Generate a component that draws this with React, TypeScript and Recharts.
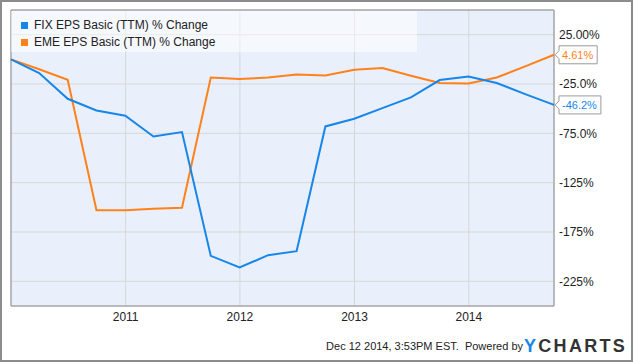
import { LineChart, Line, XAxis, YAxis, CartesianGrid, ReferenceArea } from "recharts";

const quarters = [
  "2009-12-31", "2010-03-31", "2010-06-30", "2010-09-30",
  "2010-12-31", "2011-03-31", "2011-06-30", "2011-09-30",
  "2011-12-31", "2012-03-31", "2012-06-30", "2012-09-30",
  "2012-12-31", "2013-03-31", "2013-06-30", "2013-09-30",
  "2013-12-31", "2014-03-31", "2014-06-30", "2014-09-30",
];
const fixChange = [
  0, -13.9, -40, -51.8, -57.2, -78.2, -73.7, -199.2, -211, -198.5,
  -194.4, -68, -60.2, -49.4, -38.6, -21, -17.3, -24, -35.2, -46.2,
];
const emeChange = [
  0, -10, -20.7, -153, -153, -151.5, -150.5, -18.4, -20, -18.4,
  -15.3, -16.3, -10.5, -8.9, -16.6, -24, -24.4, -18.4, -7.2, 4.61,
];
const yearTicks = ["2011-01-01", "2012-01-01", "2013-01-01", "2014-01-01"];
const yearLabels = ["2011", "2012", "2013", "2014"];
const yTicks = [25, -25, -75, -125, -175, -225];
const yTickLabels = ["25.00%", "-25.0%", "-75.0%", "-125%", "-175%", "-225%"];
const fixEndLabel = "-46.2%";
const emeEndLabel = "4.61%";

const BLUE = "#1686ea";
const ORANGE = "#ff8119";
const FONT = "'Liberation Sans', Arial, sans-serif";

const data = quarters.map((q, i) => ({
  t: Date.parse(q),
  fix: fixChange[i],
  eme: emeChange[i],
}));
const tMin = data[0].t;
const tMax = data[data.length - 1].t;
const xTicks = yearTicks.map((d) => Date.parse(d));

// rough text width for the end-value tags (11px Arial)
const textWidth = (s: string) =>
  s.split("").reduce((w, c) => w + (c === "%" ? 9.8 : c === "." ? 3.1 : c === "-" ? 3.7 : 6.1), 0);

function endTag(text: string, color: string) {
  return (props: any) => {
    const { x, y, index } = props;
    if (index !== data.length - 1) return null;
    const bx = x + 5;
    const w = textWidth(text) + 7;
    const d = `M${x + 1},${y} L${bx},${y - 4} L${bx},${y - 9} L${bx + w},${y - 9} L${bx + w},${y + 9} L${bx},${y + 9} L${bx},${y + 4} Z`;
    return (
      <g>
        <path d={d} fill="#fff" stroke="#9a9a9a" strokeWidth={1} />
        <text x={bx + 3} y={y + 4} fill={color} fontSize={11} fontFamily={FONT}>
          {text}
        </text>
      </g>
    );
  };
}

export default function App() {
  return (
    <div style={{ position: "absolute", left: 0, top: 0, width: 635, height: 362, background: "#fff", fontFamily: FONT }}>
      <LineChart
        width={635}
        height={362}
        data={data}
        margin={{ top: 10, right: 11, left: 11, bottom: 26 }}
      >
        <CartesianGrid stroke="#d7d7d7" fill="#eaf0fb" fillOpacity={1} />
        <XAxis
          dataKey="t"
          type="number"
          domain={[tMin, tMax]}
          ticks={xTicks}
          tickFormatter={(v) => yearLabels[xTicks.indexOf(v)] ?? ""}
          height={30}
          axisLine={false}
          tickLine={false}
          tickSize={0}
          tickMargin={6}
          tick={{ fontSize: 12, fill: "#222", fontFamily: FONT }}
        />
        <YAxis
          orientation="right"
          type="number"
          domain={[-250, 50]}
          ticks={yTicks}
          tickFormatter={(v) => yTickLabels[yTicks.indexOf(v)] ?? ""}
          width={70}
          axisLine={false}
          tickLine={false}
          tickSize={0}
          tickMargin={5}
          tick={{ fontSize: 12, fill: "#222", fontFamily: FONT }}
        />
        <ReferenceArea x1={tMin} x2={tMax} y1={-250} y2={50} fill="none" stroke="#8c8c8c" strokeWidth={1} />
        <Line
          type="linear"
          dataKey="eme"
          stroke={ORANGE}
          strokeWidth={2}
          dot={false}
          isAnimationActive={false}
          label={endTag(emeEndLabel, ORANGE)}
        />
        <Line
          type="linear"
          dataKey="fix"
          stroke={BLUE}
          strokeWidth={2}
          dot={false}
          isAnimationActive={false}
          label={endTag(fixEndLabel, BLUE)}
        />
      </LineChart>

      <div
        style={{
          position: "absolute", left: 11, top: 11, width: 406, height: 41,
          background: "rgba(255,255,255,0.5)", fontSize: 12, color: "#222",
        }}
      >
        <div style={{ position: "absolute", left: 10, top: 7, display: "flex", alignItems: "center" }}>
          <span style={{ width: 7, height: 7, background: BLUE, marginRight: 6 }} />
          FIX EPS Basic (TTM) % Change
        </div>
        <div style={{ position: "absolute", left: 10, top: 24, display: "flex", alignItems: "center" }}>
          <span style={{ width: 7, height: 7, background: ORANGE, marginRight: 6 }} />
          EME EPS Basic (TTM) % Change
        </div>
      </div>

      <div style={{ position: "absolute", right: 112, top: 340, fontSize: 11, color: "#222" }}>
        Dec 12 2014, 3:53PM EST.&nbsp; Powered by
      </div>
      <div style={{ position: "absolute", left: 524, top: 336, fontSize: 18, fontWeight: "bold", letterSpacing: 2.3, color: "#333" }}>
        <span style={{ color: BLUE }}>Y</span>CHARTS
      </div>

      <div
        style={{
          position: "absolute", left: 0, top: 0, width: 633, height: 362,
          border: "2px solid #8c8c8c", boxSizing: "border-box", pointerEvents: "none",
        }}
      />
    </div>
  );
}
